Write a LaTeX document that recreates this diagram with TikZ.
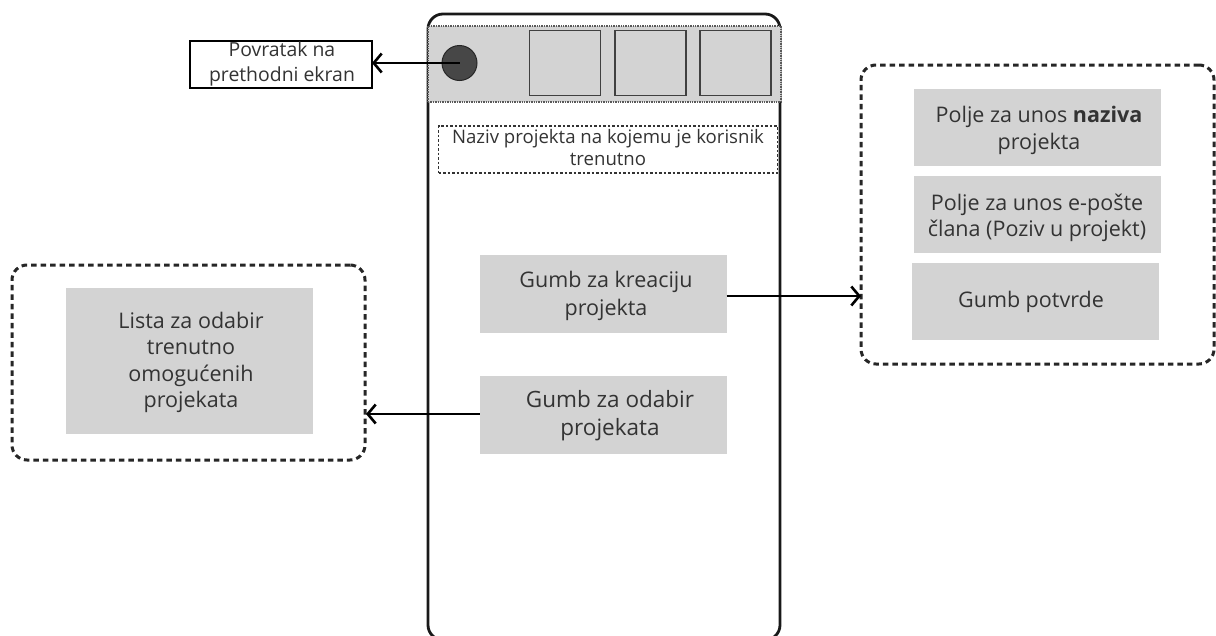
\documentclass[tikz,border=0pt]{standalone}
\usepackage{fontspec}
\setmainfont{Open Sans}
\usetikzlibrary{arrows.meta}
\definecolor{boxgray}{HTML}{D3D3D3}
\definecolor{txt}{HTML}{333333}
\tikzset{
  x=1pt,y=-1pt,
  every node/.style={inner sep=0pt,outer sep=0pt,text=txt,align=center,font=\fontsize{21.5}{27}\selectfont},
  graybox/.style={fill=boxgray,minimum width=247pt,minimum height=78pt},
  square/.style={draw=black!75,line width=1.8pt,fill=boxgray,minimum width=71pt,minimum height=65pt},
  groupbox/.style={draw=black!85,line width=3pt,rounded corners=15pt,dash pattern=on 5.5pt off 4pt},
  link/.style={draw=black,line width=2.6pt,-{Straight Barb[length=8pt,width=19pt,line width=2.6pt]}}
}
\begin{document}
\begin{tikzpicture}
\useasboundingbox (0,0) rectangle (1216,635);
% phone
\node[draw=black!90,line width=2.8pt,rounded corners=15pt,minimum width=352pt,minimum height=626pt,anchor=north west] (phone) at (428,14) {};
% header
\node[fill=boxgray,draw=black!65,line width=1.4pt,densely dotted,minimum width=353pt,minimum height=76pt,anchor=north west] (header) at (428,26) {};
\node[draw=black!85,line width=1pt,fill=black!72,circle,minimum size=35pt] (back) at (459.5,63) {};
\node[square] (s1) at (565,63) {};
\node[square] (s2) at (650.5,63) {};
\node[square] (s3) at (735.5,63) {};
\node[draw=black,line width=1.4pt,fill=white,minimum width=182pt,minimum height=47pt] (ret) at (281,64.5) {};
\node[font=\fontsize{19.4}{25}\selectfont] (rettext) at (282,64) {Povratak na\\prethodni ekran};
\node[draw=black!80,line width=1.2pt,dash pattern=on 2.5pt off 2pt,minimum width=339pt,minimum height=47pt] (name) at (608,149.5) {};
\node[font=\fontsize{18.6}{22}\selectfont] (nametext) at (608,147.5) {Naziv projekta na kojemu je korisnik\\trenutno};
% main buttons
\node[graybox] (create) at (603,294) {};
\node[font=\fontsize{21.5}{28}\selectfont] (createtext) at (606,296) {Gumb za kreaciju\\projekta};
\node[graybox] (pick) at (603,415) {};
\node[font=\fontsize{22.5}{28}\selectfont] (picktext) at (610,416) {Gumb za odabir\\projekata};
% right group
\node[groupbox,minimum width=353pt,minimum height=299pt] (rgroup) at (1037.5,214.5) {};
\node[graybox,minimum height=77pt] (f1) at (1037.5,127) {};
\node[font=\fontsize{21.5}{27}\selectfont] (f1text) at (1039,130.5) {Polje za unos \textbf{naziva}\\projekta};
\node[graybox,minimum height=77pt] (f2) at (1037.5,214.5) {};
\node[font=\fontsize{21.5}{26}\selectfont] (f2text) at (1037,218) {Polje za unos e-pošte\\člana (Poziv u projekt)};
\node[graybox,minimum height=77pt] (f3) at (1035.5,301.5) {};
\node (f3text) at (1031,302) {Gumb potvrde};
% left group
\node[groupbox,minimum width=353pt,minimum height=195pt] (lgroup) at (188.5,362.5) {};
\node[graybox,minimum height=146pt] (list) at (189,361) {};
\node[font=\fontsize{21.5}{26.5}\selectfont] (listtext) at (191,362.5) {Lista za odabir\\trenutno\\omogućenih\\projekata};
% connectors
\draw[link] (back.center) -- (back.center -| ret.east);
\draw[link] (create.east |- 0,296) -- (rgroup.west |- 0,296);
\draw[link] (pick.west |- 0,414) -- (366,414);
\end{tikzpicture}
\end{document}
